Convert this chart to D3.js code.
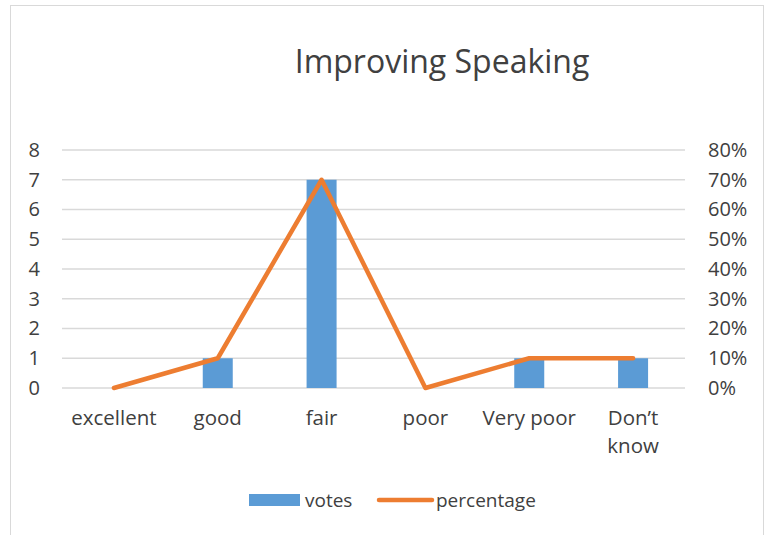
<!DOCTYPE html>
<html>
<head>
<meta charset="utf-8">
<script src="https://cdn.jsdelivr.net/npm/d3@7"></script>
<style>
  body { margin: 0; background: #fff; }
  text { font-family: "Open Sans", "Liberation Sans", sans-serif; fill: #404040; }
</style>
</head>
<body>
<script>
// data
var categories = ["excellent", "good", "fair", "poor", "Very poor", "Don\u2019t know"];
var votes = [0, 1, 7, 0, 1, 1];
var percentage = [0, 10, 70, 0, 10, 10];
var leftTicks = [0, 1, 2, 3, 4, 5, 6, 7, 8];
var rightTicks = [0, 10, 20, 30, 40, 50, 60, 70, 80];

var W = 767, H = 535;
var margin = { top: 150, left: 62, right: 82, bottom: 147 };
var width = W - margin.left - margin.right;
var height = H - margin.top - margin.bottom;

var svg = d3.select("body").append("svg")
  .attr("width", W)
  .attr("height", H);

// chart border
svg.append("rect")
  .attr("x", 10.5).attr("y", 5.5)
  .attr("width", 753).attr("height", 540)
  .attr("fill", "none")
  .attr("stroke", "#d9d9d9");

svg.append("text")
  .attr("x", 442).attr("y", 73)
  .attr("text-anchor", "middle")
  .style("font-size", "32px")
  .text("Improving Speaking");

var g = svg.append("g")
  .attr("transform", "translate(" + margin.left + "," + margin.top + ")");

var x = d3.scaleBand().domain(categories).range([0, width]);
var yL = d3.scaleLinear().domain([0, 8]).range([height, 0]);
var yR = d3.scaleLinear().domain([0, 80]).range([height, 0]);

// gridlines
g.selectAll(".grid")
  .data(leftTicks)
  .enter().append("line")
    .attr("class", "grid")
    .attr("x1", 0).attr("x2", width)
    .attr("y1", function(d) { return yL(d); })
    .attr("y2", function(d) { return yL(d); })
    .attr("stroke", "#d9d9d9")
    .attr("stroke-width", 1.3);

// left axis
var leftAxis = g.append("g")
  .call(d3.axisLeft(yL).tickValues(leftTicks).tickSize(0).tickPadding(22));
leftAxis.select(".domain").remove();
leftAxis.selectAll("text").style("font-size", "20px").attr("fill", "#404040");

// right axis
var rightAxis = g.append("g")
  .attr("transform", "translate(" + width + ",0)")
  .call(d3.axisRight(yR).tickValues(rightTicks).tickSize(0).tickPadding(23)
    .tickFormat(function(d) { return d + "%"; }));
rightAxis.select(".domain").remove();
rightAxis.selectAll("text").style("font-size", "20px").attr("fill", "#404040");

// category labels
var xAxis = g.append("g")
  .attr("transform", "translate(0," + height + ")")
  .call(d3.axisBottom(x).tickSize(0).tickPadding(22));
xAxis.select(".domain").remove();
xAxis.selectAll("text")
  .style("font-size", "20.5px")
  .attr("fill", "#404040")
  .each(function(d) {
    var t = d3.select(this);
    if (d.indexOf("Don") === 0) {
      var parts = d.split(" ");
      t.text(null);
      t.append("tspan").attr("x", 0).text(parts[0]);
      t.append("tspan").attr("x", 0).attr("dy", "1.37em").text(parts[1]);
    }
  });

// bars
var barW = 30;
g.selectAll(".bar")
  .data(votes)
  .enter().append("rect")
    .attr("class", "bar")
    .attr("x", function(d, i) { return x(categories[i]) + x.bandwidth() / 2 - barW / 2; })
    .attr("y", function(d) { return yL(d); })
    .attr("width", barW)
    .attr("height", function(d) { return height - yL(d); })
    .attr("fill", "#5b9bd5");

// line
var line = d3.line()
  .x(function(d, i) { return x(categories[i]) + x.bandwidth() / 2; })
  .y(function(d) { return yR(d); });

g.append("path")
  .datum(percentage)
  .attr("d", line)
  .attr("fill", "none")
  .attr("stroke", "#ed7d31")
  .attr("stroke-width", 4.5)
  .attr("stroke-linecap", "round")
  .attr("stroke-linejoin", "round");

// legend
var legend = svg.append("g");
legend.append("rect")
  .attr("x", 249).attr("y", 494)
  .attr("width", 51).attr("height", 12)
  .attr("fill", "#5b9bd5");
legend.append("text")
  .attr("x", 305).attr("y", 507)
  .style("font-size", "19px")
  .text("votes");
legend.append("line")
  .attr("x1", 379).attr("x2", 432)
  .attr("y1", 500).attr("y2", 500)
  .attr("stroke", "#ed7d31")
  .attr("stroke-width", 4.5)
  .attr("stroke-linecap", "round");
legend.append("text")
  .attr("x", 436).attr("y", 507)
  .style("font-size", "19px")
  .text("percentage");
</script>
</body>
</html>
